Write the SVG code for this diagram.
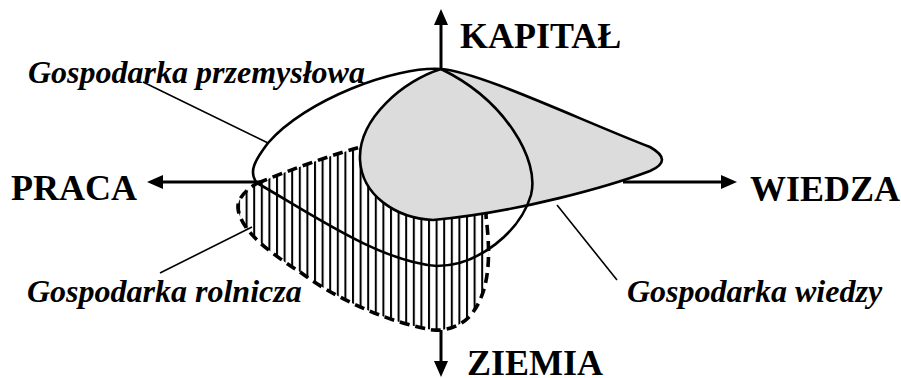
<svg xmlns="http://www.w3.org/2000/svg" width="901" height="378" viewBox="0 0 901 378">
<style>
.axis{stroke:#000;stroke-width:3;fill:none}
.outline{stroke:#000;stroke-width:2.6;fill:none}
.leader{stroke:#000;stroke-width:1.6;fill:none}
.axlabel{font-weight:bold;font-size:36px;fill:#000}
.label{font-weight:bold;font-style:italic;font-size:32px;fill:#000}
</style>
<defs>
<pattern id="hatch" patternUnits="userSpaceOnUse" x="238" y="0" width="7.6" height="10">
<rect x="0" y="0" width="2" height="10" fill="#000"/>
</pattern>
<marker id="arrow" viewBox="0 0 16 14" refX="1" refY="7" markerWidth="16" markerHeight="14" markerUnits="userSpaceOnUse" orient="auto">
<path d="M0,0 L16,7 L0,14 Z" fill="#000"/>
</marker>
</defs>

<g id="rolnicza">
<path d="M258,183 C290,170 330,155 365,146 L480,150 C487,180 487,200 486,216 C490,250 492,290 470,316 C460,327 445,331 433,330 C395,324 340,302 300,272 C275,256 240,232 238,208 C237,198 248,188 258,183 Z" fill="url(#hatch)" stroke="#000" stroke-width="3.6" stroke-dasharray="10,6"/>
</g>

<g id="wiedzy">
<path d="M441,69 C480,72 580,120 650,147 C666,156 666,164 650,171 C610,186 520,212 433,220 C395,218 362,195 360,160 C358,118 405,80 441,69 Z" stroke="#000" stroke-width="2.6" fill="#dcdcdc"/>
</g>

<g id="przemyslowa">
<path class="outline" d="M441,69 C395,66 305,100 268,143 C255,160 248,172 257,183 C310,213 380,262 437,266 C478,266 520,232 531,195 C540,160 505,100 441,69 Z"/>
</g>

<g id="connectors">
<line class="axis" x1="441" y1="69" x2="441" y2="24" marker-end="url(#arrow)"/>
<line class="axis" x1="441" y1="330" x2="441" y2="362" marker-end="url(#arrow)"/>
<line class="axis" x1="260" y1="182" x2="162" y2="182" marker-end="url(#arrow)"/>
<line class="axis" x1="623" y1="182" x2="722" y2="182" marker-end="url(#arrow)"/>
<line class="leader" x1="143" y1="82" x2="268" y2="143"/>
<line class="leader" x1="160" y1="273" x2="252" y2="227"/>
<line class="leader" x1="557" y1="205" x2="617" y2="280"/>
</g>

<g id="axis-labels" font-family="'Liberation Serif', 'Times New Roman', Times, serif">
<text class="axlabel" x="460" y="48">KAPITAŁ</text>
<text class="axlabel" x="11" y="200">PRACA</text>
<text class="axlabel" x="750" y="201">WIEDZA</text>
<text class="axlabel" x="467" y="375">ZIEMIA</text>
</g>
<g id="labels" font-family="'Liberation Serif', 'Times New Roman', Times, serif">
<text class="label" x="28" y="83">Gospodarka przemysłowa</text>
<text class="label" x="27" y="302">Gospodarka rolnicza</text>
<text class="label" x="627" y="302">Gospodarka wiedzy</text>
</g>
</svg>
